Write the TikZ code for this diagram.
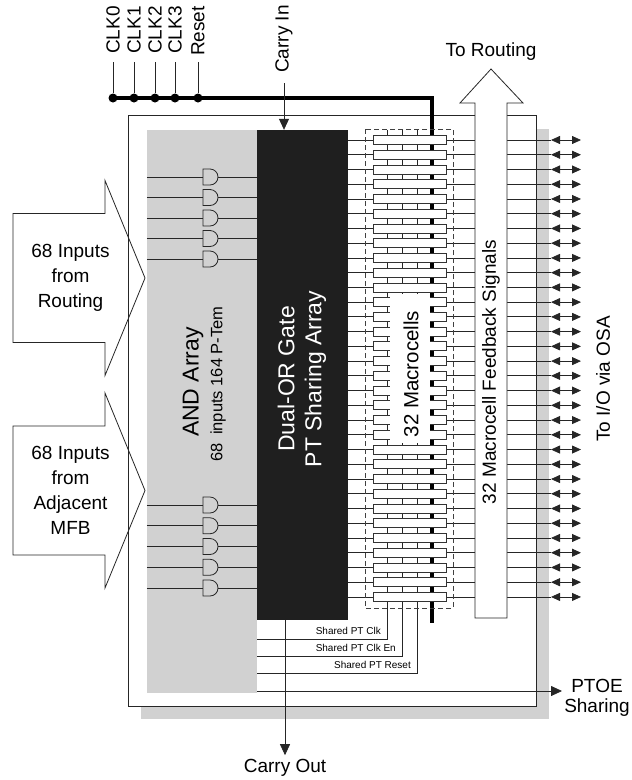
\documentclass[tikz,border=0pt]{standalone}
\usepackage{fontspec}
\setmainfont{Liberation Sans}
\usetikzlibrary{arrows.meta}
\usetikzlibrary{positioning}
\usetikzlibrary{calc}

\begin{document}
\begin{tikzpicture}[
	x = 1pt, y = -1pt,
	wire/.style = {
	  draw = black!85, line width = 0.8pt,
	},
	lbl/.style = {
	  font = \fontsize{19}{25}\selectfont,
	  align = center, inner sep = 0pt,
	},
	biglbl/.style = {
	  font = \fontsize{23}{27}\selectfont,
	  align = center, inner sep = 0pt,
	},
	tiny/.style = {
	  font = \fontsize{10}{12}\selectfont,
	  inner sep = 1pt,
	},
	tip/.style = {-{Triangle[length=11pt, width=10pt]}},
	iotip/.style = {{Triangle[length=9pt, width=8pt]}-{Triangle[length=9pt, width=8pt]}},
	mcell/.style = {
	  draw = black!80, fill = white, line width = 0.8pt,
	  minimum width = 73pt, minimum height = 9pt,
	  inner sep = 0pt,
	},
	jdot/.style = {
	  circle, fill = black,
	  minimum size = 9pt, inner sep = 0pt,
	},
  ]
  \useasboundingbox (0,0) rectangle (632,780);

  % frame and shadow
  \fill[black!18] (141,129) rectangle (549,719);
  \draw[wire, fill=white] (128,115) rectangle (536,706);

  \node[fill=black!18, minimum width=110pt, minimum height=563pt, inner sep=0pt]
	(andarr) at (202,411.5) {};
  \node[fill=black!88, minimum width=91pt, minimum height=490pt, inner sep=0pt]
	(orarr) at (302.5,375) {};

  \node[biglbl, rotate=90] (andlbl) at (193,382) {AND Array};
  \node[font=\fontsize{16.5}{18}\selectfont, rotate=90, inner sep=0pt]
	(andsub) at (218,384) {68\enspace inputs 164 P-Tem};
  \node[biglbl, rotate=90, text=white] (orlbl) at (302,379)
	{Dual-OR Gate\\PT Sharing Array};

  % and gates
  \foreach \y in {177,197.5,218,238.5,259,505,525.75,546.5,567.25,588} {
	\draw[wire] (andarr.west |- 0,\y) -- (andarr.east |- 0,\y);
	\draw[wire, fill=black!18] (203,\y-8) -- (210,\y-8)
	  arc[start angle=90, end angle=-90, radius=8pt] -- (203,\y+8) -- cycle;
  }

  % macrocell rows
  \foreach \k in {0,...,31} {
	\pgfmathsetmacro\ry{140+14.74*\k}
	\draw[wire] (orarr.east |- 0,\ry) -- (551,\ry);
	\draw[wire, iotip] (551,\ry) -- (581,\ry);
  }

  % shared product terms
  \coordinate (sclk) at (257,639);
  \coordinate (sclken) at (257,656);
  \coordinate (srst) at (257,673);
  \draw[wire] (387,130) -- (387,639) -- (sclk);
  \draw[wire] (402,130) -- (402,656) -- (sclken);
  \draw[wire] (417,130) -- (417,673) -- (srst);
  \node[tiny, anchor=east] at (382,631) {Shared PT Clk};
  \node[tiny, anchor=east] at (397,648) {Shared PT Clk En};
  \node[tiny, anchor=east] at (412,664.5) {Shared PT Reset};

  % global bus
  \draw[line width=3.6pt] (113,98) -- (432,98) -- (432,623);
  \foreach \x/\nm/\t in {113/c0/CLK0, 134/c1/CLK1, 155/c2/CLK2, 175/c3/CLK3, 198/rst/Reset} {
	\node[jdot] (d\nm) at (\x,98) {};
	\node[lbl, rotate=90, anchor=east] (l\nm) at (\x,6) {\t};
	\draw[wire] (d\nm) -- (\x,62);
  }

  % macrocells
  \foreach \k in {0,...,31} {
	\node[mcell] (mc\k) at (409.5,140+14.74*\k) {};
  }
  \fill[white] (390,294) rectangle (430,443);
  \node[font=\fontsize{20.5}{24}\selectfont, rotate=90, inner sep=0pt]
	(mclbl) at (411,374) {32 Macrocells};
  \draw[black!75, line width=0.8pt, dash pattern=on 5pt off 3pt]
	(365,129) rectangle (453,608);

  % feedback arrow
  \draw[wire, fill=white] (475,618) -- (475,103) -- (460,103) -- (491,69)
	-- (523,103) -- (507,103) -- (507,618) -- cycle;
  \node[lbl, rotate=90] (fblbl) at (491,372) {32 Macrocell Feedback Signals};
  \node[lbl] (torout) at (491,52) {To Routing};
  \node[lbl, rotate=90] (toio) at (603,379) {To I/O via OSA};

  % inputs
  \foreach \cy/\nm/\t in {278/inrt/{68 Inputs\\from\\Routing},
	  490.5/inadj/{68 Inputs\\from\\Adjacent\\MFB}} {
	\draw[wire] (13,\cy-64.5) -- (105,\cy-64.5) -- (105,\cy-97.5) -- (145,\cy)
	  -- (105,\cy+97.5) -- (105,\cy+64.5) -- (13,\cy+64.5) -- cycle;
	\node[lbl] (\nm) at (70.5,\cy) {\t};
  }

  % carry chain
  \node[lbl, rotate=90] (cinlbl) at (284,39) {Carry In};
  \coordinate (cin) at (284,83);
  \draw[wire, tip] (cin) -- (cin |- orarr.north);
  \node[lbl] (coutlbl) at (285,768) {Carry Out};
  \draw[wire, tip] (orarr.south -| coutlbl) -- ([yshift=4pt]coutlbl.north);

  % ptoe
  \node[lbl, font=\fontsize{19}{20}\selectfont] (ptoe) at (597,698) {PTOE\\Sharing};
  \coordinate (ptoein) at (257,691);
  \draw[wire, tip] (ptoein) -- (562,691);
\end{tikzpicture}
\end{document}
